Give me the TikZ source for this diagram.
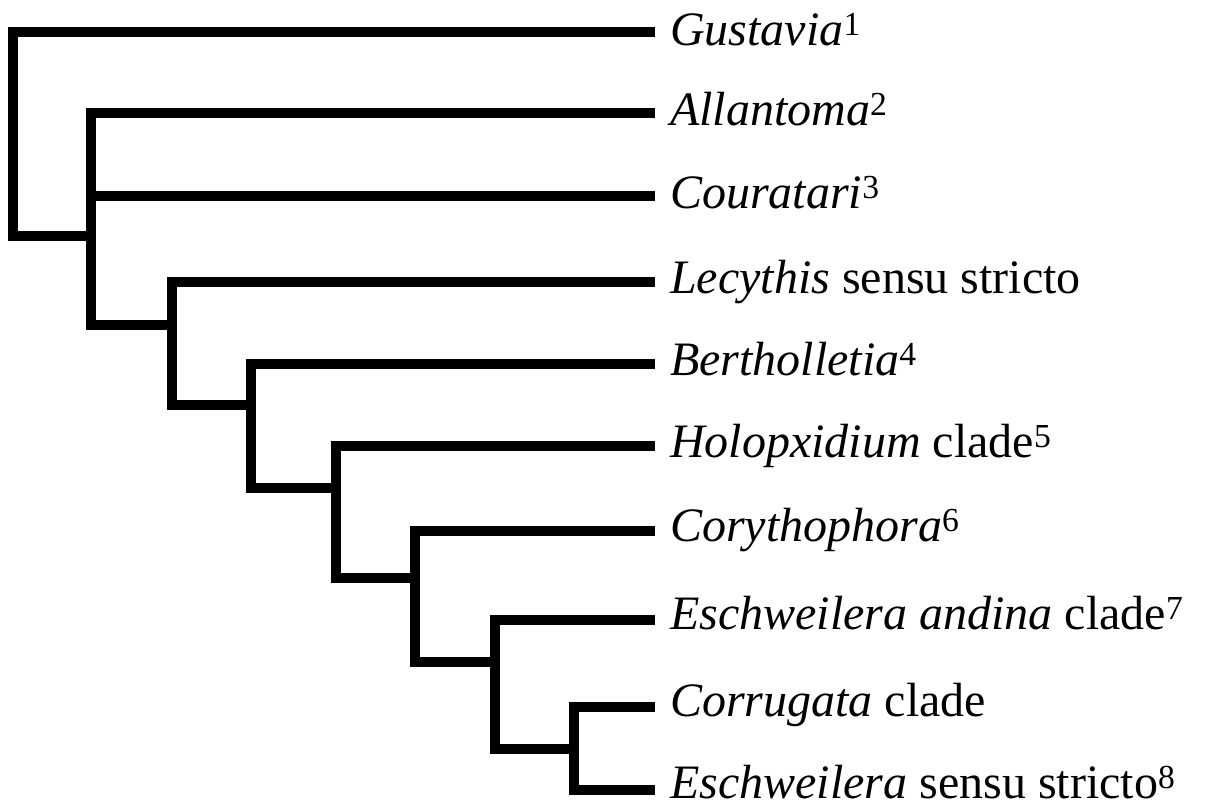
\documentclass[tikz,border=0pt]{standalone}
\usepackage{fontspec}
\setmainfont{Liberation Serif}
\begin{document}
\begin{tikzpicture}[x=1pt,y=-1pt,
  branch/.style={line width=10pt, line join=miter, line cap=butt},
  taxon/.style={anchor=base west, inner sep=0pt, font=\fontsize{48}{56}\selectfont}]
\useasboundingbox (0,0) rectangle (1211,806);
% leaf tips
\coordinate (t1) at (655,32);
\coordinate (t2) at (655,113);
\coordinate (t3) at (655,196);
\coordinate (t4) at (655,282);
\coordinate (t5) at (655,364);
\coordinate (t6) at (655,446);
\coordinate (t7) at (655,531);
\coordinate (t8) at (655,620);
\coordinate (t9) at (655,707);
\coordinate (t10) at (655,790);
% internal nodes (connection points)
\coordinate (nA) at (91,236);
\coordinate (nB) at (172,325);
\coordinate (nC) at (251,405);
\coordinate (nD) at (336,488);
\coordinate (nE) at (415,578);
\coordinate (nF) at (495,662);
\coordinate (nG) at (574,749);
% branches
\draw[branch] (t1) -- (13,32) -- (13,236) -- (nA);
\draw[branch] (t2) -- (91,113) -- (91,325) -- (nB);
\draw[branch] (91,196) -- (t3);
\draw[branch] (t4) -- (172,282) -- (172,405) -- (nC);
\draw[branch] (t5) -- (251,364) -- (251,488) -- (nD);
\draw[branch] (t6) -- (336,446) -- (336,578) -- (nE);
\draw[branch] (t7) -- (415,531) -- (415,662) -- (nF);
\draw[branch] (t8) -- (495,620) -- (495,749) -- (nG);
\draw[branch] (t9) -- (574,707) -- (574,790) -- (t10);
% labels
\node[taxon] (l1) at ([xshift=15pt,yshift=-13pt]t1) {\textit{Gustavia}\textsuperscript{1}};
\node[taxon] (l2) at ([xshift=15pt,yshift=-12pt]t2) {\textit{Allantoma}\textsuperscript{2}};
\node[taxon] (l3) at ([xshift=15pt,yshift=-12pt]t3) {\textit{Couratari}\textsuperscript{3}};
\node[taxon] (l4) at ([xshift=15pt,yshift=-11pt]t4) {\textit{Lecythis} sensu stricto};
\node[taxon] (l5) at ([xshift=15pt,yshift=-11pt]t5) {\textit{Bertholletia}\textsuperscript{4}};
\node[taxon] (l6) at ([xshift=15pt,yshift=-11pt]t6) {\textit{Holopxidium} clade\textsuperscript{5}};
\node[taxon] (l7) at ([xshift=15pt,yshift=-10pt]t7) {\textit{Corythophora}\textsuperscript{6}};
\node[taxon] (l8) at ([xshift=15pt,yshift=-9pt]t8) {\textit{Eschweilera andina} clade\textsuperscript{7}};
\node[taxon] (l9) at ([xshift=15pt,yshift=-9pt]t9) {\textit{Corrugata} clade};
\node[taxon] (l10) at ([xshift=15pt,yshift=-8pt]t10) {\textit{Eschweilera} sensu stricto\textsuperscript{8}};
\end{tikzpicture}
\end{document}
